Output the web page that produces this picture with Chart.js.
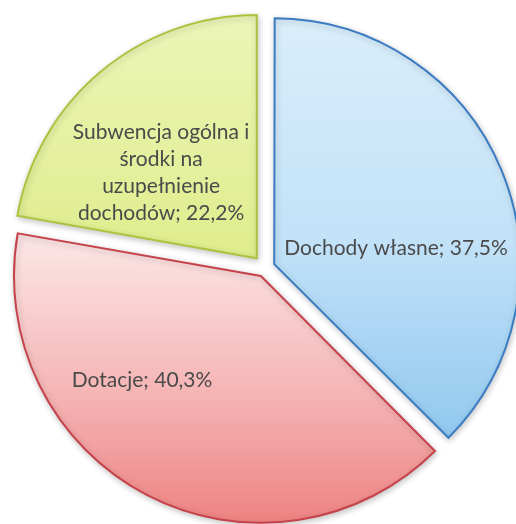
<!DOCTYPE html>
<html>
<head>
<meta charset="utf-8">
<script src="https://cdn.jsdelivr.net/npm/chart.js@4/dist/chart.umd.min.js"></script>
<style>
  html, body { margin: 0; padding: 0; background: #fff; }
  canvas { display: block; }
</style>
</head>
<body>
<canvas id="chart" width="516" height="524"></canvas>
<script>
// data (percent of budget income)
const categories = ['Dochody własne', 'Dotacje', 'Subwencja ogólna i środki na uzupełnienie dochodów']
const shares = [37.5, 40.3, 22.2]
const labelLines = [
  ['Dochody własne; 37,5%'],
  ['Dotacje; 40,3%'],
  ['Subwencja ogólna i', 'środki na', 'uzupełnienie', 'dochodów; 22,2%'],
]

// style
const borderColors = ['#3b7cc2', '#c6434b', '#abc440']
const gradStops = [
  [[0, '#d9eefb'], [0.45, '#c2e2f8'], [0.85, '#92c9ef']],
  [[0.45, '#fbe2e2'], [0.75, '#f5b3b3'], [1, '#ee8484']],
  [[0, '#ecf5b8'], [0.5, '#dfed8c']],
]
// explode distance ~13px; chart.js moves by offset/4 * (2 - sin(circ))
const offsets = [40, 36, 51]
// label placement: angle shift from bisector (deg), radius fraction
const labelPos = [[15.3, 0.494], [21.8, 0.635], [-8.2, 0.528]]

function sliceFill(ctx) {
  const chart = ctx.chart
  const area = chart.chartArea
  if (!area) return borderColors[ctx.dataIndex]
  const cy = (area.top + area.bottom) / 2
  const r = 243
  const g = chart.ctx.createLinearGradient(0, cy - r, 0, cy + r)
  gradStops[ctx.dataIndex].forEach(([p, c]) => g.addColorStop(p, c))
  return g
}

const shadowPlugin = {
  id: 'shadow',
  beforeDatasetsDraw(chart) {
    const c = chart.ctx
    c.save()
    c.shadowColor = 'rgba(0,0,0,0.22)'
    c.shadowBlur = 6
    c.shadowOffsetX = 1
    c.shadowOffsetY = 2
  },
  afterDatasetsDraw(chart) {
    chart.ctx.restore()
  },
}

const labelPlugin = {
  id: 'sliceLabels',
  afterDatasetsDraw(chart) {
    const c = chart.ctx
    const arcs = chart.getDatasetMeta(0).data
    c.save()
    c.font = '21px Lato'
    c.fillStyle = '#4a4a4a'
    c.textAlign = 'center'
    c.textBaseline = 'middle'
    arcs.forEach((arc, i) => {
      const mid = (arc.startAngle + arc.endAngle) / 2
      const d = offsets[i] / 4 * (2 - Math.sin(Math.min(Math.PI, arc.circumference)))
      const a = mid + labelPos[i][0] * Math.PI / 180
      const rr = arc.outerRadius * labelPos[i][1]
      const x = arc.x + Math.cos(mid) * d + Math.cos(a) * rr
      const y = arc.y + Math.sin(mid) * d + Math.sin(a) * rr
      const lines = labelLines[i]
      const lh = 27
      lines.forEach((t, k) => {
        c.fillText(t, x, y + (k - (lines.length - 1) / 2) * lh)
      })
    })
    c.restore()
  },
}

new Chart(document.getElementById('chart'), {
  type: 'pie',
  data: {
    labels: categories,
    datasets: [{
      data: shares,
      backgroundColor: sliceFill,
      borderColor: borderColors,
      borderWidth: 2,
      borderJoinStyle: 'miter',
      offset: offsets,
      radius: 243,
      clip: false,
    }],
  },
  options: {
    responsive: false,
    animation: false,
    layout: { padding: { left: 14, right: 0, top: 12, bottom: 0 } },
    plugins: {
      legend: { display: false },
      tooltip: { enabled: false },
    },
  },
  plugins: [shadowPlugin, labelPlugin],
})
</script>
</body>
</html>
